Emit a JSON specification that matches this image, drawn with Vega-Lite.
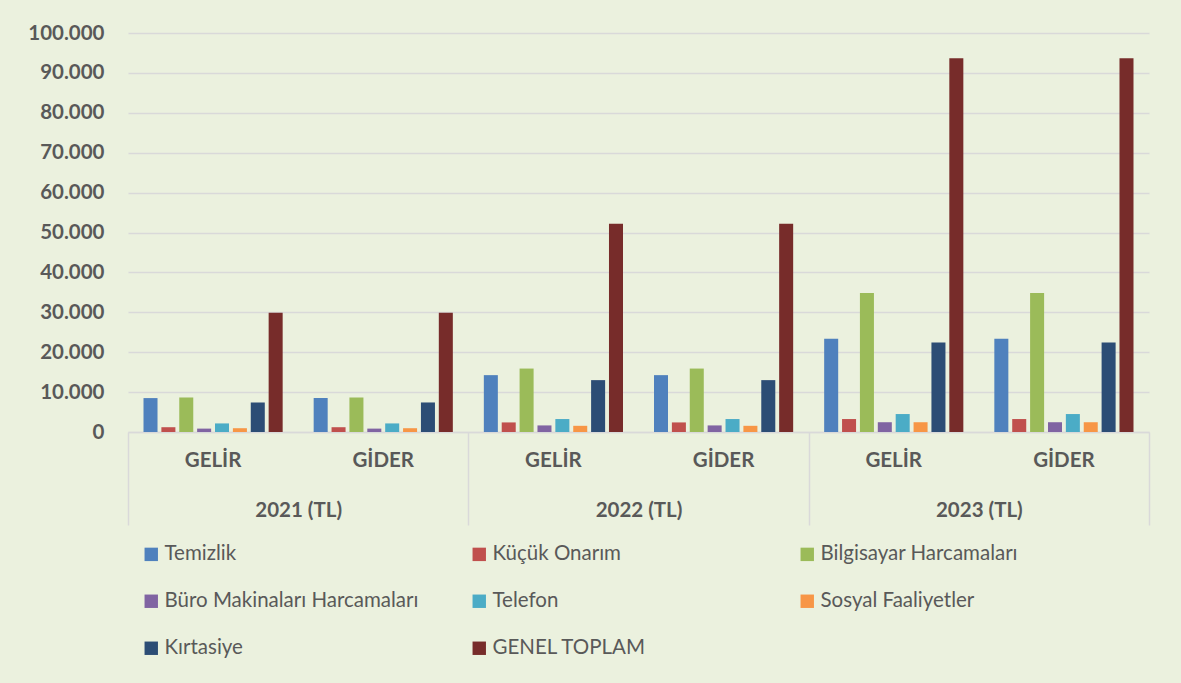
{
  "$schema": "https://vega.github.io/schema/vega-lite/v6.json",
  "autosize": {"type": "none"},
  "width": 1021,
  "height": 399,
  "padding": {"left": 128, "top": 33, "right": 32, "bottom": 251},
  "background": "#EBF1DE",
  "config": {
    "view": {"stroke": null},
    "font": "Lato",
    "axis": {"labelFont": "Lato", "labelColor": "#595959", "labelFontWeight": "bold", "labelFontSize": 20.5}
  },
  "data": {
    "values": [
      {"yil": "2021 (TL)", "grup": "2021|GELİR", "kalem": "Temizlik", "tutar": 8500},
      {"yil": "2021 (TL)", "grup": "2021|GELİR", "kalem": "Küçük Onarım", "tutar": 1200},
      {"yil": "2021 (TL)", "grup": "2021|GELİR", "kalem": "Bilgisayar Harcamaları", "tutar": 8650},
      {"yil": "2021 (TL)", "grup": "2021|GELİR", "kalem": "Büro Makinaları Harcamaları", "tutar": 850},
      {"yil": "2021 (TL)", "grup": "2021|GELİR", "kalem": "Telefon", "tutar": 2150},
      {"yil": "2021 (TL)", "grup": "2021|GELİR", "kalem": "Sosyal Faaliyetler", "tutar": 950},
      {"yil": "2021 (TL)", "grup": "2021|GELİR", "kalem": "Kırtasiye", "tutar": 7400},
      {"yil": "2021 (TL)", "grup": "2021|GELİR", "kalem": "GENEL TOPLAM", "tutar": 29900},
      {"yil": "2021 (TL)", "grup": "2021|GİDER", "kalem": "Temizlik", "tutar": 8500},
      {"yil": "2021 (TL)", "grup": "2021|GİDER", "kalem": "Küçük Onarım", "tutar": 1200},
      {"yil": "2021 (TL)", "grup": "2021|GİDER", "kalem": "Bilgisayar Harcamaları", "tutar": 8650},
      {"yil": "2021 (TL)", "grup": "2021|GİDER", "kalem": "Büro Makinaları Harcamaları", "tutar": 850},
      {"yil": "2021 (TL)", "grup": "2021|GİDER", "kalem": "Telefon", "tutar": 2150},
      {"yil": "2021 (TL)", "grup": "2021|GİDER", "kalem": "Sosyal Faaliyetler", "tutar": 950},
      {"yil": "2021 (TL)", "grup": "2021|GİDER", "kalem": "Kırtasiye", "tutar": 7400},
      {"yil": "2021 (TL)", "grup": "2021|GİDER", "kalem": "GENEL TOPLAM", "tutar": 29900},
      {"yil": "2022 (TL)", "grup": "2022|GELİR", "kalem": "Temizlik", "tutar": 14250},
      {"yil": "2022 (TL)", "grup": "2022|GELİR", "kalem": "Küçük Onarım", "tutar": 2400},
      {"yil": "2022 (TL)", "grup": "2022|GELİR", "kalem": "Bilgisayar Harcamaları", "tutar": 15900},
      {"yil": "2022 (TL)", "grup": "2022|GELİR", "kalem": "Büro Makinaları Harcamaları", "tutar": 1650},
      {"yil": "2022 (TL)", "grup": "2022|GELİR", "kalem": "Telefon", "tutar": 3250},
      {"yil": "2022 (TL)", "grup": "2022|GELİR", "kalem": "Sosyal Faaliyetler", "tutar": 1550},
      {"yil": "2022 (TL)", "grup": "2022|GELİR", "kalem": "Kırtasiye", "tutar": 13000},
      {"yil": "2022 (TL)", "grup": "2022|GELİR", "kalem": "GENEL TOPLAM", "tutar": 52200},
      {"yil": "2022 (TL)", "grup": "2022|GİDER", "kalem": "Temizlik", "tutar": 14250},
      {"yil": "2022 (TL)", "grup": "2022|GİDER", "kalem": "Küçük Onarım", "tutar": 2400},
      {"yil": "2022 (TL)", "grup": "2022|GİDER", "kalem": "Bilgisayar Harcamaları", "tutar": 15900},
      {"yil": "2022 (TL)", "grup": "2022|GİDER", "kalem": "Büro Makinaları Harcamaları", "tutar": 1650},
      {"yil": "2022 (TL)", "grup": "2022|GİDER", "kalem": "Telefon", "tutar": 3250},
      {"yil": "2022 (TL)", "grup": "2022|GİDER", "kalem": "Sosyal Faaliyetler", "tutar": 1550},
      {"yil": "2022 (TL)", "grup": "2022|GİDER", "kalem": "Kırtasiye", "tutar": 13000},
      {"yil": "2022 (TL)", "grup": "2022|GİDER", "kalem": "GENEL TOPLAM", "tutar": 52200},
      {"yil": "2023 (TL)", "grup": "2023|GELİR", "kalem": "Temizlik", "tutar": 23400},
      {"yil": "2023 (TL)", "grup": "2023|GELİR", "kalem": "Küçük Onarım", "tutar": 3250},
      {"yil": "2023 (TL)", "grup": "2023|GELİR", "kalem": "Bilgisayar Harcamaları", "tutar": 34850},
      {"yil": "2023 (TL)", "grup": "2023|GELİR", "kalem": "Büro Makinaları Harcamaları", "tutar": 2450},
      {"yil": "2023 (TL)", "grup": "2023|GELİR", "kalem": "Telefon", "tutar": 4500},
      {"yil": "2023 (TL)", "grup": "2023|GELİR", "kalem": "Sosyal Faaliyetler", "tutar": 2450},
      {"yil": "2023 (TL)", "grup": "2023|GELİR", "kalem": "Kırtasiye", "tutar": 22400},
      {"yil": "2023 (TL)", "grup": "2023|GELİR", "kalem": "GENEL TOPLAM", "tutar": 93650},
      {"yil": "2023 (TL)", "grup": "2023|GİDER", "kalem": "Temizlik", "tutar": 23400},
      {"yil": "2023 (TL)", "grup": "2023|GİDER", "kalem": "Küçük Onarım", "tutar": 3250},
      {"yil": "2023 (TL)", "grup": "2023|GİDER", "kalem": "Bilgisayar Harcamaları", "tutar": 34850},
      {"yil": "2023 (TL)", "grup": "2023|GİDER", "kalem": "Büro Makinaları Harcamaları", "tutar": 2450},
      {"yil": "2023 (TL)", "grup": "2023|GİDER", "kalem": "Telefon", "tutar": 4500},
      {"yil": "2023 (TL)", "grup": "2023|GİDER", "kalem": "Sosyal Faaliyetler", "tutar": 2450},
      {"yil": "2023 (TL)", "grup": "2023|GİDER", "kalem": "Kırtasiye", "tutar": 22400},
      {"yil": "2023 (TL)", "grup": "2023|GİDER", "kalem": "GENEL TOPLAM", "tutar": 93650}
    ]
  },
  "layer": [
    {
      "mark": {"type": "bar"},
      "encoding": {
        "x": {
          "field": "grup", "type": "nominal",
          "scale": {"domain": ["2021|GELİR", "2021|GİDER", "2022|GELİR", "2022|GİDER", "2023|GELİR", "2023|GİDER"], "paddingInner": 0, "paddingOuter": 0},
          "axis": {
            "orient": "bottom", "title": null, "ticks": false, "grid": false,
            "labelExpr": "split(datum.value, '|')[1]", "labelAngle": 0,
            "labelPadding": 18, "domain": true, "domainColor": "#D9D9D9", "domainWidth": 1.5
          }
        },
        "xOffset": {
          "field": "kalem", "type": "nominal",
          "scale": {"domain": ["Temizlik", "Küçük Onarım", "Bilgisayar Harcamaları", "Büro Makinaları Harcamaları", "Telefon", "Sosyal Faaliyetler", "Kırtasiye", "GENEL TOPLAM"], "paddingInner": 0.216, "paddingOuter": 0.867}
        },
        "y": {
          "field": "tutar", "type": "quantitative",
          "scale": {"domain": [0, 100000], "nice": false},
          "axis": {
            "title": null, "ticks": false, "domain": false, "labelOverlap": false,
            "values": [0, 10000, 20000, 30000, 40000, 50000, 60000, 70000, 80000, 90000, 100000],
            "labelExpr": "replace(format(datum.value, ','), ',', '.')",
            "labelPadding": 24, "gridColor": "#D9D9D9", "gridWidth": 1.5
          }
        },
        "color": {
          "field": "kalem", "type": "nominal",
          "scale": {
            "domain": ["Temizlik", "Küçük Onarım", "Bilgisayar Harcamaları", "Büro Makinaları Harcamaları", "Telefon", "Sosyal Faaliyetler", "Kırtasiye", "GENEL TOPLAM"],
            "range": ["#4F81BD", "#C0504D", "#9BBB59", "#8064A2", "#4BACC6", "#F79646", "#2C4D75", "#772C2A"]
          },
          "legend": {
            "title": null, "orient": "none", "legendX": 13, "legendY": 511,
            "direction": "horizontal", "columns": 3, "gridAlign": "all",
            "columnPadding": 50, "rowPadding": 26, "padding": 0,
            "symbolType": "square", "symbolSize": 180, "symbolStrokeWidth": 0,
            "labelFont": "Lato", "labelFontSize": 20.5, "labelColor": "#595959", "labelOffset": 3, "labelLimit": 400
          }
        }
      }
    },
    {
      "mark": {"type": "rule", "strokeOpacity": 0},
      "encoding": {
        "x": {
          "field": "yil", "type": "nominal",
          "scale": {"type": "band", "paddingInner": 0, "paddingOuter": 0},
          "axis": {
            "orient": "bottom", "title": null, "grid": false, "domain": false,
            "ticks": true, "tickBand": "extent", "tickSize": 93, "tickColor": "#D9D9D9", "tickWidth": 1.5,
            "labelAngle": 0, "labelPadding": -25
          }
        }
      }
    }
  ],
  "resolve": {"scale": {"x": "independent"}, "axis": {"x": "independent"}}
}
